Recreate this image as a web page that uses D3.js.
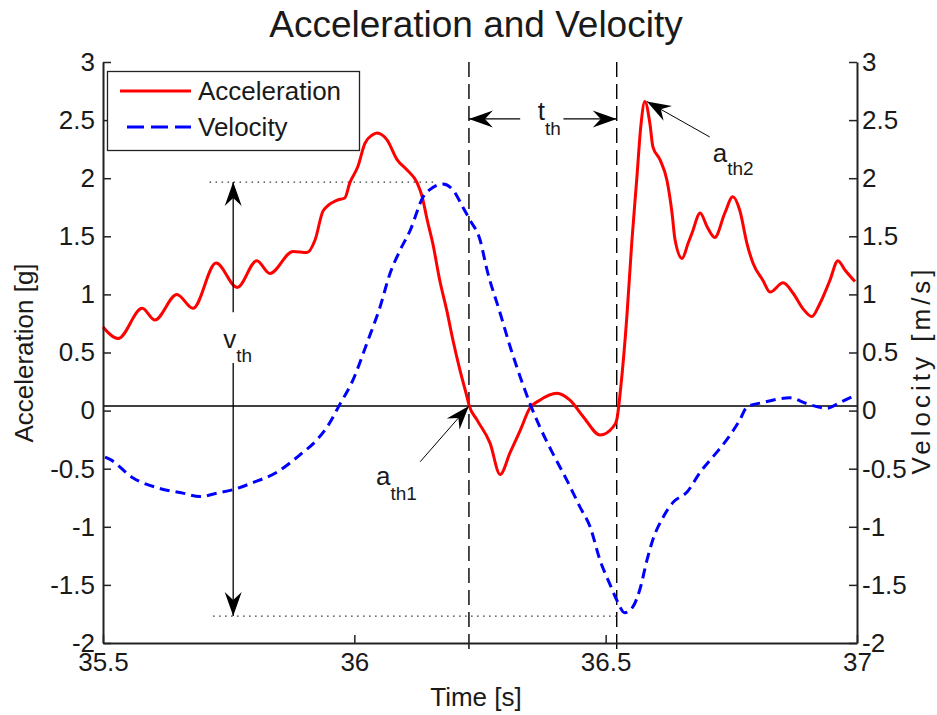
<!DOCTYPE html>
<html><head><meta charset="utf-8">
<script src="https://cdn.jsdelivr.net/npm/d3@7"></script>
<style>
body{margin:0;background:#fff}
svg text{font-family:"Liberation Sans",Arial,Helvetica,sans-serif;fill:#1a1a1a}
</style>
</head><body>
<svg id="chart" width="937" height="715"></svg>
<script>
// ---------- data ----------
const accTime = [35.500,35.530,35.578,35.603,35.647,35.679,35.725,35.767,35.806,35.832,35.878,35.906,35.922,35.938,35.965,35.981,35.991,36.007,36.021,36.035,36.045,36.065,36.085,36.105,36.125,36.135,36.145,36.156,36.170,36.184,36.196,36.210,36.224,36.228,36.244,36.270,36.290,36.310,36.330,36.349,36.369,36.403,36.429,36.455,36.489,36.515,36.522,36.530,36.542,36.552,36.562,36.570,36.578,36.588,36.594,36.608,36.622,36.632,36.638,36.652,36.664,36.672,36.688,36.702,36.717,36.737,36.753,36.767,36.781,36.793,36.813,36.827,36.853,36.873,36.892,36.910,36.926,36.946,36.962,36.976,36.996];
const accValues = [0.72,0.62,0.88,0.78,1.00,0.88,1.27,1.06,1.29,1.18,1.37,1.36,1.47,1.72,1.81,1.83,1.96,2.10,2.30,2.37,2.39,2.33,2.16,2.07,1.96,1.84,1.64,1.44,1.12,0.86,0.61,0.35,0.12,0.05,-0.08,-0.28,-0.55,-0.36,-0.17,0.02,0.09,0.15,0.09,-0.05,-0.21,-0.14,-0.08,0.20,0.80,1.45,2.00,2.45,2.66,2.47,2.27,2.16,1.98,1.70,1.47,1.31,1.44,1.53,1.70,1.58,1.49,1.70,1.84,1.72,1.44,1.27,1.12,1.02,1.10,1.01,0.88,0.81,0.92,1.12,1.29,1.21,1.11];

const velTime = [35.504,35.514,35.560,35.613,35.659,35.693,35.727,35.759,35.798,35.846,35.892,35.926,35.946,35.972,35.997,36.025,36.051,36.071,36.091,36.111,36.137,36.156,36.176,36.196,36.216,36.230,36.250,36.264,36.290,36.310,36.330,36.355,36.369,36.395,36.423,36.449,36.469,36.489,36.509,36.522,36.538,36.554,36.568,36.582,36.594,36.614,36.634,36.662,36.688,36.713,36.741,36.767,36.781,36.813,36.867,36.900,36.940,36.966,36.996];
const velValues = [-0.40,-0.42,-0.58,-0.67,-0.71,-0.74,-0.71,-0.68,-0.62,-0.53,-0.38,-0.25,-0.14,0.06,0.26,0.58,0.89,1.18,1.38,1.55,1.84,1.92,1.95,1.90,1.75,1.64,1.47,1.21,0.84,0.55,0.29,0.00,-0.14,-0.37,-0.60,-0.83,-1.00,-1.29,-1.50,-1.63,-1.74,-1.69,-1.54,-1.29,-1.11,-0.92,-0.79,-0.70,-0.53,-0.40,-0.25,-0.08,0.03,0.07,0.11,0.06,0.02,0.07,0.13];

const xTicks = [35.5, 36, 36.5, 37];
const yLeftTicks = [3, 2.5, 2, 1.5, 1, 0.5, 0, -0.5, -1, -1.5, -2];
const yRightTicks = [3, 2.5, 2, 1.5, 1, 0.5, 0, -0.5, -1, -1.5, -2];
const seriesNames = ["Acceleration", "Velocity"];

// annotation anchors (data units)
const zeroRef = 0.04;
const tStart = 36.228, tEnd = 36.522;
const vTop = 1.967, vBottom = -1.768, vTime = 35.759;

// ---------- scales ----------
const svg = d3.select("#chart");
const x = d3.scaleLinear().domain([35.5, 37]).range([103, 857]);
const yL = d3.scaleLinear().domain([-2, 3]).range([643, 62]);
const yR = d3.scaleLinear().domain([-2, 3]).range([643, 62]);
const fmt = d => String(d);
const AX = "#222";

// arrow marker
const defs = svg.append("defs");
defs.append("marker").attr("id","ah")
  .attr("markerUnits","userSpaceOnUse").attr("viewBox","-26 -11 28 22")
  .attr("markerWidth",28).attr("markerHeight",22).attr("refX",0).attr("refY",0)
  .attr("orient","auto-start-reverse")
  .append("path").attr("d","M0,0 L-24,-8.5 L-16,0 L-24,8.5 Z").attr("fill","#000");

// zero reference line
svg.append("line").attr("x1",x(35.5)).attr("x2",x(37)).attr("y1",yL(zeroRef)).attr("y2",yL(zeroRef))
  .attr("stroke","#000").attr("stroke-width",1.4);

// dashed verticals
[tStart, tEnd].forEach(t => {
  svg.append("line").attr("x1",x(t)).attr("x2",x(t)).attr("y1",yL(3)).attr("y2",yL(-2.1))
    .attr("stroke","#000").attr("stroke-width",1.4).attr("stroke-dasharray","15,7");
});

// dotted guides
svg.append("line").attr("x1",x(35.712)).attr("x2",x(36.165)).attr("y1",yL(vTop)).attr("y2",yL(vTop))
  .attr("stroke","#333").attr("stroke-width",1.2).attr("stroke-dasharray","1.5,4.5");
svg.append("line").attr("x1",x(35.719)).attr("x2",x(36.528)).attr("y1",yL(vBottom)).attr("y2",yL(vBottom))
  .attr("stroke","#333").attr("stroke-width",1.2).attr("stroke-dasharray","1.5,4.5");

// series
const accData = accTime.map((t,i)=>[t, accValues[i]]);
const velData = velTime.map((t,i)=>[t, velValues[i]]);
svg.append("path").datum(accData)
  .attr("d", d3.line().x(d=>x(d[0])).y(d=>yL(d[1])).curve(d3.curveMonotoneX))
  .attr("fill","none").attr("stroke","#ff0000").attr("stroke-width",3).attr("stroke-linejoin","round");
svg.append("path").datum(velData)
  .attr("d", d3.line().x(d=>x(d[0])).y(d=>yR(d[1])).curve(d3.curveMonotoneX))
  .attr("fill","none").attr("stroke","#0000ff").attr("stroke-width",3).attr("stroke-dasharray","10,6");

// axes
function styleAxis(g){
  g.attr("font-size",null).attr("font-family",null);
  g.select(".domain").attr("stroke",AX).attr("stroke-width",2);
  g.selectAll(".tick line").attr("stroke",AX).attr("stroke-width",1.5);
  g.selectAll(".tick text").style("font-size","26px").attr("fill","#1a1a1a");
}
svg.append("g").attr("transform","translate(103,0)")
  .call(d3.axisLeft(yL).tickValues(yLeftTicks).tickFormat(fmt).tickSizeInner(-8).tickSizeOuter(0).tickPadding(8))
  .call(styleAxis);
svg.append("g").attr("transform","translate(857,0)")
  .call(d3.axisRight(yR).tickValues(yRightTicks).tickFormat(fmt).tickSizeInner(-8).tickSizeOuter(0).tickPadding(5))
  .call(styleAxis);
svg.append("g").attr("transform","translate(0,643)")
  .call(d3.axisBottom(x).tickValues(xTicks).tickFormat(fmt).tickSizeInner(-8).tickSizeOuter(0).tickPadding(10))
  .call(styleAxis);

// titles / labels
svg.append("text").attr("x",476).attr("y",37).attr("text-anchor","middle").style("font-size","37px").text("Acceleration and Velocity");
svg.append("text").attr("x",476).attr("y",706).attr("text-anchor","middle").style("font-size","26px").text("Time [s]");
svg.append("text").attr("transform","translate(33,353) rotate(-90)").attr("text-anchor","middle").style("font-size","26px").text("Acceleration [g]");
svg.append("text").attr("transform","translate(930,370) rotate(-90)").attr("text-anchor","middle").style("font-size","26px").style("letter-spacing","4px").text("Velocity [m/s]");

// legend
const lg = svg.append("g");
lg.append("rect").attr("x",107.5).attr("y",71.5).attr("width",252).attr("height",79)
  .attr("fill","#fff").attr("stroke","#222").attr("stroke-width",1.3);
lg.append("line").attr("x1",120).attr("x2",191).attr("y1",91).attr("y2",91).attr("stroke","#ff0000").attr("stroke-width",3);
lg.append("line").attr("x1",127).attr("x2",191).attr("y1",127).attr("y2",127).attr("stroke","#0000ff").attr("stroke-width",3).attr("stroke-dasharray","17,7");
lg.append("text").attr("x",198).attr("y",100).style("font-size","26px").text(seriesNames[0]);
lg.append("text").attr("x",198).attr("y",136).style("font-size","26px").text(seriesNames[1]);

// v_th arrow (two parts with gap for label)
svg.append("line").attr("x1",x(vTime)).attr("x2",x(vTime)).attr("y1",yL(0.846)).attr("y2",yL(vTop))
  .attr("stroke","#000").attr("stroke-width",1.3).attr("marker-end","url(#ah)");
svg.append("line").attr("x1",x(vTime)).attr("x2",x(vTime)).attr("y1",yL(0.41)).attr("y2",yL(vBottom))
  .attr("stroke","#000").attr("stroke-width",1.3).attr("marker-end","url(#ah)");
function subLabel(px, py, main, sub, dy){
  const t = svg.append("text").attr("x",px).attr("y",py).style("font-size","26px");
  t.append("tspan").text(main);
  t.append("tspan").attr("dy",dy).style("font-size","19px").text(sub);
}
subLabel(x(35.739), yL(0.539), "v", "th", 14);

// t_th arrow
const tthY = 2.51;
svg.append("line").attr("x1",x(36.330)).attr("x2",x(tStart)).attr("y1",yL(tthY)).attr("y2",yL(tthY))
  .attr("stroke","#000").attr("stroke-width",1.3).attr("marker-end","url(#ah)");
svg.append("line").attr("x1",x(36.416)).attr("x2",x(tEnd)).attr("y1",yL(tthY)).attr("y2",yL(tthY))
  .attr("stroke","#000").attr("stroke-width",1.3).attr("marker-end","url(#ah)");
subLabel(x(36.365), yL(2.505), "t", "th", 15);

// a_th1
svg.append("line").attr("x1",x(36.131)).attr("y1",yL(-0.44)).attr("x2",x(tStart)).attr("y2",yL(zeroRef))
  .attr("stroke","#000").attr("stroke-width",1).attr("marker-end","url(#ah)");
subLabel(x(36.043), yL(-0.64), "a", "th1", 15);

// a_th2
svg.append("line").attr("x1",x(36.707)).attr("y1",yL(2.355)).attr("x2",x(36.582)).attr("y2",yL(2.66))
  .attr("stroke","#000").attr("stroke-width",1).attr("marker-end","url(#ah)");
subLabel(x(36.713), yL(2.14), "a", "th2", 13);
</script>
</body></html>
